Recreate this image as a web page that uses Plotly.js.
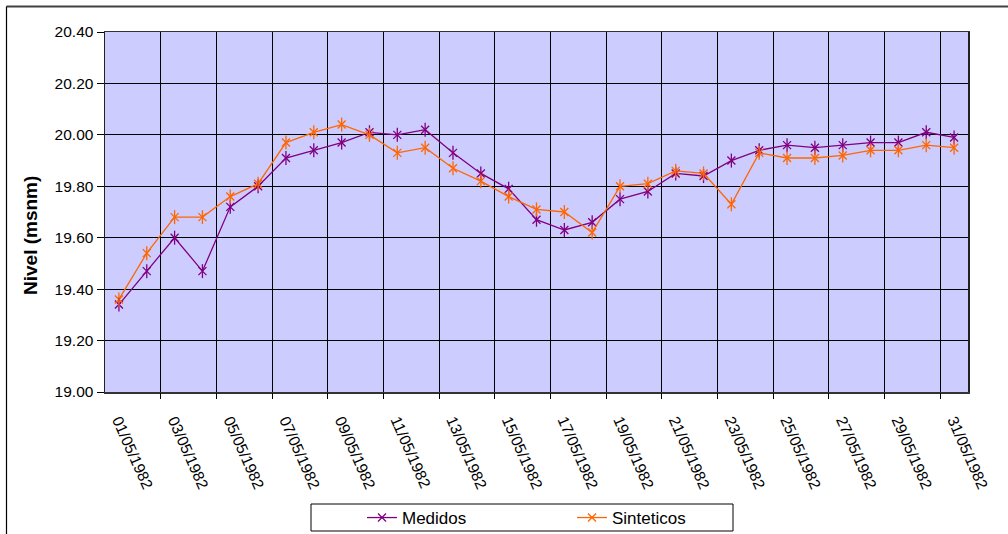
<!DOCTYPE html>
<html><head><meta charset="utf-8">
<script src="https://cdn.plot.ly/plotly-3.0.1.min.js"></script>
<style>html,body{margin:0;padding:0;background:#fff}#chart{width:1008px;height:534px}</style>
</head><body><div id="chart"></div>
<script>
const fechas = ['01/05/1982','02/05/1982','03/05/1982','04/05/1982','05/05/1982','06/05/1982','07/05/1982','08/05/1982',
  '09/05/1982','10/05/1982','11/05/1982','12/05/1982','13/05/1982','14/05/1982','15/05/1982','16/05/1982',
  '17/05/1982','18/05/1982','19/05/1982','20/05/1982','21/05/1982','22/05/1982','23/05/1982','24/05/1982',
  '25/05/1982','26/05/1982','27/05/1982','28/05/1982','29/05/1982','30/05/1982','31/05/1982'];
const medidos = [19.34,19.47,19.60,19.47,19.72,19.80,19.91,19.94,19.97,20.01,20.00,20.02,19.93,19.85,19.79,19.67,
  19.63,19.66,19.75,19.78,19.85,19.84,19.90,19.94,19.96,19.95,19.96,19.97,19.97,20.01,19.99];
const sinteticos = [19.36,19.54,19.68,19.68,19.76,19.81,19.97,20.01,20.04,20.00,19.93,19.95,19.87,19.82,19.76,19.71,
  19.70,19.62,19.80,19.81,19.86,19.85,19.73,19.93,19.91,19.91,19.92,19.94,19.94,19.96,19.95];
const etiquetasX = fechas.filter((d, i) => i % 2 === 0);
const nombres = ['Medidos', 'Sinteticos'];
const colores = ['#800080', '#FF6600'];
const tituloY = 'Nivel (msnm)';

const W = 1008, H = 534, ML = 105, MR = 40, MT = 32, MB = 142;
const PW = W - ML - MR, PH = H - MT - MB;
const px = v => (v - ML) / PW;
const py = v => (H - MB - v) / PH;

const indices = fechas.map((d, i) => i);
function serie(name, y, color) {
  return [
    {x: fechas, y: y, name: name, type: 'scatter', mode: 'lines+markers', legendgroup: name,
     line: {color: color, width: 1.3},
     marker: {symbol: 'x-thin-open', size: 8, color: color, line: {color: color, width: 1.3}}},
    {x: indices, y: y, xaxis: 'x2', name: name, type: 'scatter', mode: 'markers', legendgroup: name, showlegend: false,
     hoverinfo: 'skip', marker: {symbol: 'line-ns-open', size: 10, color: color, line: {color: color, width: 1.3}}}
  ];
}
const data = [].concat(serie(nombres[0], medidos, colores[0]), serie(nombres[1], sinteticos, colores[1]));

// category boundaries every two days (gridlines between categories)
const limites = [];
for (let i = 1; i < fechas.length - 1; i += 2) limites.push(i + 0.5);

const fam = 'Liberation Sans, Arial, sans-serif';
const layout = {
  width: W, height: H,
  margin: {l: ML, r: MR, t: MT, b: MB, pad: 0, autoexpand: false},
  paper_bgcolor: '#ffffff', plot_bgcolor: '#CCCCFF',
  font: {family: fam, color: '#000'},
  showlegend: true,
  xaxis: {type: 'category', range: [-0.5, fechas.length - 0.5], tickmode: 'array',
    tickvals: etiquetasX, ticktext: etiquetasX, tickangle: 66, showgrid: false, ticks: '',
    tickfont: {family: fam, size: 15.5, color: '#000'}, ticklabelstandoff: 12,
    showline: true, linecolor: '#333', linewidth: 1.5, mirror: true, zeroline: false},
  xaxis2: {overlaying: 'x', anchor: 'y', type: 'linear', range: [-0.5, fechas.length - 0.5],
    tickmode: 'array', tickvals: limites, showticklabels: false, showgrid: true,
    gridcolor: '#000', gridwidth: 1, ticks: 'outside', ticklen: 6, tickcolor: '#000',
    side: 'bottom', zeroline: false, showline: false},
  yaxis: {range: [19.0, 20.4], tick0: 19, dtick: 0.2, tickformat: '.2f', ticks: 'outside', ticklen: 7,
    tickcolor: '#000', gridcolor: '#000', gridwidth: 1, showline: true, linecolor: '#222', linewidth: 1.5,
    mirror: true, zeroline: false, tickfont: {family: fam, size: 15.5, color: '#000'}},
  legend: {orientation: 'h', x: px(362), xanchor: 'left', y: py(518), yanchor: 'middle',
    font: {family: fam, size: 17, color: '#000'}, bgcolor: 'rgba(0,0,0,0)', borderwidth: 0,
    entrywidthmode: 'pixels', entrywidth: 165, itemwidth: 30},
  annotations: [
    {text: tituloY, xref: 'paper', yref: 'paper', x: px(30), y: py(236), textangle: -90,
     showarrow: false, xanchor: 'center', yanchor: 'middle',
     font: {family: fam, size: 19, weight: 'bold', color: '#000'}}
  ],
  shapes: [
    {type: 'rect', xref: 'paper', yref: 'paper', x0: px(311), x1: px(733), y0: py(531), y1: py(504),
     line: {color: '#000', width: 1}, fillcolor: 'rgba(0,0,0,0)'},
    {type: 'line', xref: 'paper', yref: 'paper', x0: px(6.5), x1: px(1008), y0: py(6.5), y1: py(6.5),
     line: {color: '#404040', width: 2}},
    {type: 'line', xref: 'paper', yref: 'paper', x0: px(6.5), x1: px(6.5), y0: py(6.5), y1: py(534),
     line: {color: '#000', width: 1.2}}
  ]
};
Plotly.newPlot('chart', data, layout, {displayModeBar: false, staticPlot: true});
</script>
</body></html>
